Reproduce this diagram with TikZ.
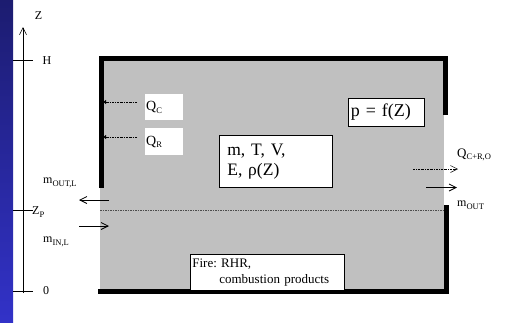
\documentclass[tikz,border=0pt]{standalone}
\usepackage{fontspec}
\setmainfont{Liberation Serif}
\usetikzlibrary{arrows.meta}
\definecolor{roomgrey}{RGB}{192,192,192}
\definecolor{bartop}{RGB}{28,28,112}
\definecolor{barbottom}{RGB}{50,50,200}
\newcommand{\subtxt}[1]{\raisebox{-2.5pt}{\fontsize{8.5}{9}\selectfont #1}}
\frenchspacing
\begin{document}
\begin{tikzpicture}[x=1pt,y=-1pt,
    wall/.style={line width=5pt},
    flow/.style={-{Straight Barb[length=7pt,width=7pt]}, line width=0.8pt},
    heat/.style={dash pattern=on 2pt off 1pt on 0.6pt off 1pt, line width=0.5pt},
    infobox/.style={draw, fill=white, line width=0.7pt, align=left, anchor=north west, inner ysep=0pt},
    lbl/.style={font=\fontsize{12}{14}\selectfont, inner sep=0pt}]
    \useasboundingbox (0,0) rectangle (511,322);

    \shade[top color=bartop, bottom color=barbottom] (0,0) rectangle (13,322);

    % height axis
    \coordinate (base) at (23,293);
    \coordinate (top) at (23,27);
    \draw[flow, line width=0.6pt] (base) -- (top);
    \node[lbl] (zlabel) at (38.5,15.5) {Z};
    \coordinate (hl) at (13,60.5);  \coordinate (hr) at (33,60.5);
    \coordinate (pl) at (13,210.5); \coordinate (pr) at (33,210.5);
    \coordinate (ol) at (13,291);   \coordinate (or) at (33,291);
    \draw[line width=0.6pt] (hl) -- (hr) (pl) -- (pr) (ol) -- (or);
    \node[lbl] (hlabel) at (47,61) {H};
    \node[lbl, anchor=west] (zplabel) at (32,212) {Z\subtxt{P}};
    \node[lbl] (olabel) at (46,291) {0};
    \node[lbl, anchor=west] (moutl) at (43,183) {m\subtxt{OUT,L}};
    \node[lbl, anchor=west] (minl) at (43,242) {m\subtxt{IN,L}};

    % room
    \fill[roomgrey] (100,59) rectangle (444,290);
    \coordinate (zpa) at (100,210.5);
    \coordinate (zpb) at (443,210.5);
    \draw[line width=0.5pt, dash pattern=on 1.5pt off 1pt, black!70] (zpa) -- (zpb);
    \draw[wall] (101,187.5) -- (101,58) -- (445,58) -- (445,114.5);
    \draw[wall] (98,291) -- (446,291) -- (446,205);

    % boxes
    \node[fill=white, anchor=north west, minimum width=38pt, minimum height=26pt,
      text width=36pt, inner xsep=1pt, inner ysep=0pt, font=\fontsize{14}{16}\selectfont] (qc) at (145,94) {Q\subtxt{C}};
    \node[fill=white, anchor=north west, minimum width=38pt, minimum height=27pt,
      text width=36pt, inner xsep=1pt, inner ysep=0pt, font=\fontsize{14}{16}\selectfont] (qr) at (145,128) {Q\subtxt{R}};
    \node[infobox, minimum width=113pt, minimum height=52pt, text width=97pt, inner xsep=8pt,
      font=\fontsize{17.5}{20}\selectfont] (state) at (219,135) {m, T, V,\\E, ρ(Z)};
    \node[infobox, minimum width=76pt, minimum height=28pt, text width=71pt, inner xsep=2.5pt,
      font=\fontsize{18}{20}\selectfont] (pres) at (348,98) {p = f(Z)};
    \node[infobox, minimum width=154pt, minimum height=36pt, text width=150pt, inner xsep=2pt,
      font=\fontsize{13}{16}\selectfont] (fire) at (190,254) {Fire: RHR,\\\hspace*{27pt}combustion products};

    % heat to the walls
    \coordinate (qcs) at (137,102);  \coordinate (qce) at (103,102);
    \coordinate (qrs) at (137,137);  \coordinate (qre) at (103,137);
    \draw[heat, -{Latex[length=3pt,width=4.5pt]}] (qcs) -- (qce);
    \draw[heat, -{Latex[length=3pt,width=4.5pt]}] (qrs) -- (qre);

    % flows through the openings
    \coordinate (lo1) at (109,200); \coordinate (lo2) at (79,200);
    \coordinate (li1) at (79,226);  \coordinate (li2) at (109,226);
    \draw[flow] (lo1) -- (lo2);
    \draw[flow] (li1) -- (li2);
    \coordinate (ro1) at (426,187.5); \coordinate (ro2) at (457,187.5);
    \coordinate (rq1) at (413,169);   \coordinate (rq2) at (458,169);
    \draw[flow] (ro1) -- (ro2);
    \draw[heat, -{Straight Barb[length=7pt,width=7pt]}] (rq1) -- (rq2);
    \node[lbl, anchor=west, font=\fontsize{13}{14}\selectfont] (qout) at (457,155) {Q\subtxt{C+R,O}};
    \node[lbl, anchor=west] (mout) at (457,205) {m\subtxt{OUT}};
\end{tikzpicture}
\end{document}
